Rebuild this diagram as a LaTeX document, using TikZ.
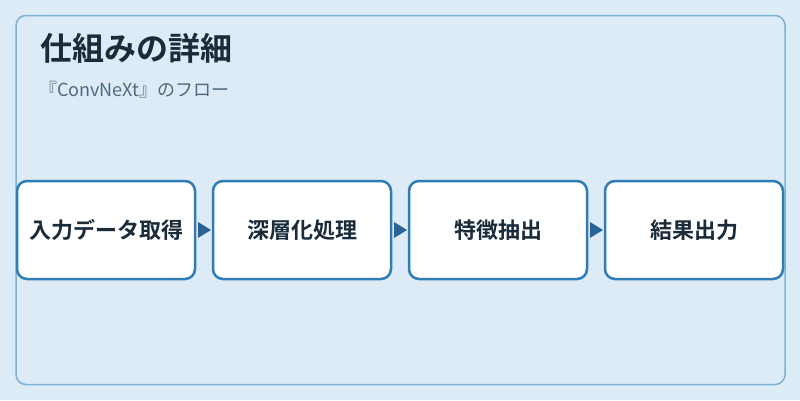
\documentclass[tikz,border=0pt]{standalone}
\usepackage{fontspec}
\setmainfont{Noto Sans CJK JP}
\newfontfamily\jpbold{Noto Sans CJK JP Bold}
\usetikzlibrary{positioning}
\definecolor{bgc}{HTML}{DCEBF6}
\definecolor{panelc}{HTML}{7AB3D6}
\definecolor{boxc}{HTML}{2E7DB5}
\definecolor{arrc}{HTML}{2A6496}
\definecolor{titlec}{HTML}{1A2B3A}
\definecolor{subc}{HTML}{4F6A80}
\tikzset{
  stepbox/.style={draw=boxc, line width=2.5pt, fill=white, rounded corners=10pt,
    minimum width=178pt, minimum height=98pt, inner sep=0pt,
    font=\jpbold\fontsize{22}{26}\selectfont, text=titlec},
  tri/.style={fill=arrc, draw=none}
}
\begin{document}
\begin{tikzpicture}[x=1pt,y=-1pt]
\fill[bgc] (0,0) rectangle (800,400);
\useasboundingbox (0,0) rectangle (800,400);
\draw[panelc, line width=1.5pt, rounded corners=10pt] (16,15.5) rectangle (785,384.5);
\node[anchor=base west, inner sep=0pt, text=titlec, font=\jpbold\fontsize{32}{38}\selectfont] (title) at (40,60) {仕組みの詳細};
\node[anchor=base west, inner sep=0pt, text=subc, font=\fontsize{18}{22}\selectfont] (sub) at (39,96) {『ConvNeXt』のフロー};
\node[stepbox] (b1) at (106,230) {入力データ取得};
\node[stepbox] (b2) at (302,230) {深層化処理};
\node[stepbox] (b3) at (498,230) {特徴抽出};
\node[stepbox] (b4) at (694,230) {結果出力};
\foreach \a/\b in {b1/b2,b2/b3,b3/b4}{
  \path (\a.east) -- (\b.west) coordinate[pos=0.5] (m\a);
  \fill[tri] ([xshift=-6pt,yshift=-8pt]m\a) -- ([xshift=7pt]m\a) -- ([xshift=-6pt,yshift=8pt]m\a) -- cycle;
}
\end{tikzpicture}
\end{document}
